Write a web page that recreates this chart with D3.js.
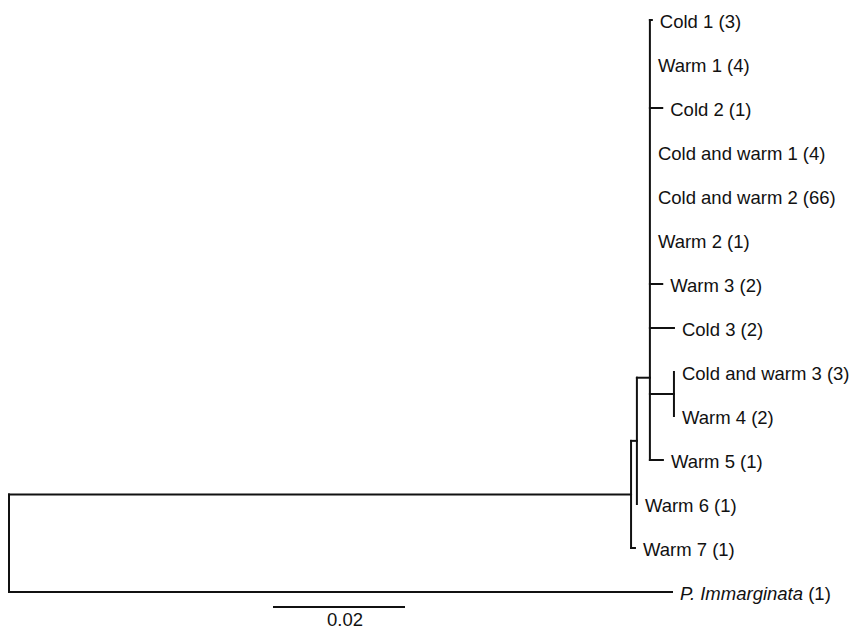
<!DOCTYPE html>
<head>
  <meta charset="utf-8">
  <title>Haplotype tree</title>
</head>
<style>
  body {
    margin: 0;
    background: #fff;
  }
  .branch {
    stroke: #111;
    stroke-width: 2px;
    stroke-linecap: square;
    fill: none;
  }
  .tip_label {
    font-family: "Liberation Sans", Arial, sans-serif;
    font-size: 18.5px;
    fill: #111;
  }
</style>
<body>
  <svg id="tree" width="851" height="630"></svg>
<script src="https://cdn.jsdelivr.net/npm/d3@7/dist/d3.min.js"></script>
<script>
  // tips, top to bottom
  var taxa = ["Cold 1", "Warm 1", "Cold 2", "Cold and warm 1", "Cold and warm 2", "Warm 2", "Warm 3",
              "Cold 3", "Cold and warm 3", "Warm 4", "Warm 5", "Warm 6", "Warm 7", "P. Immarginata"];
  var counts = [3, 4, 1, 4, 66, 1, 2, 2, 3, 2, 1, 1, 1, 1];
  var tipParents = ["C", "C", "C", "C", "C", "C", "C", "C", "D", "D", "C", "B", "A", "root"];
  var tipLengths = [0.0003, 0, 0.0019, 0, 0, 0, 0.0019, 0.0037, 0, 0, 0.002, 0, 0.0006, 0.102];
  var italicTaxa = ["P. Immarginata"];

  // internal nodes
  var nodeIds = ["root", "A", "B", "C", "D"];
  var nodeParents = [null, "root", "A", "B", "C"];
  var nodeLengths = [0, 0.0957, 0.0009, 0.002, 0.0037];
  var nodeAnchor = [null, null, null, 8.13, null]; // polytomy drawn off-centre in the original

  var scaleBarValue = 0.02;

  var svg = d3.select('#tree');

  var rows = [];
  nodeIds.forEach(function(id, i) {
    rows.push({id: id, parent: nodeParents[i], len: nodeLengths[i], anchor: nodeAnchor[i], tip: -1});
  });
  taxa.forEach(function(name, i) {
    rows.push({id: name, parent: tipParents[i], len: tipLengths[i], anchor: null, tip: i});
  });

  var root = d3.stratify()
      .id(d => d.id)
      .parentId(d => d.parent)(rows);

  var x = d3.scaleLinear().domain([0, 0.1]).range([9, 659]);
  var y = d3.scaleLinear().domain([0, taxa.length - 1]).range([20, 592]);

  root.eachBefore(function(d) {
    d.dist = (d.parent ? d.parent.dist : 0) + d.data.len;
  });
  root.eachAfter(function(d) {
    if (d.data.tip >= 0) {
      d.yy = y(d.data.tip);
    } else if (d.data.anchor != null) {
      d.yy = y(d.data.anchor);
    } else {
      var ext = d3.extent(d.children, c => c.yy);
      d.yy = (ext[0] + ext[1]) / 2;
    }
  });

  var plot = svg.append('g');

  // vertical connectors
  plot.selectAll('.vline')
      .data(root.descendants().filter(d => d.children))
    .enter().append('line')
      .attr('class', 'branch')
      .attr('x1', d => x(d.dist))
      .attr('x2', d => x(d.dist))
      .attr('y1', d => d3.min(d.children, c => c.yy))
      .attr('y2', d => d3.max(d.children, c => c.yy));

  // horizontal branches
  plot.selectAll('.hline')
      .data(root.descendants().filter(d => d.parent && d.data.len > 0))
    .enter().append('line')
      .attr('class', 'branch')
      .attr('x1', d => x(d.parent.dist))
      .attr('x2', d => x(d.dist))
      .attr('y1', d => d.yy)
      .attr('y2', d => d.yy);

  // tip labels
  var label = plot.selectAll('.tip_label')
      .data(root.leaves())
    .enter().append('text')
      .attr('class', 'tip_label')
      .attr('x', d => x(d.dist) + 8)
      .attr('y', d => d.yy)
      .attr('dy', '0.42em');
  label.append('tspan')
      .style('font-style', d => italicTaxa.indexOf(d.id) >= 0 ? 'italic' : 'normal')
      .text(d => d.id);
  label.append('tspan')
      .text(d => ' (' + counts[d.data.tip] + ')');

  // scale bar
  var barX = 274, barY = 607;
  var barLen = x(scaleBarValue) - x(0);
  svg.append('line')
      .attr('class', 'branch')
      .attr('x1', barX)
      .attr('x2', barX + barLen)
      .attr('y1', barY)
      .attr('y2', barY);
  svg.append('text')
      .attr('class', 'tip_label')
      .attr('x', barX + barLen / 2 + 6)
      .attr('y', barY + 19)
      .attr('text-anchor', 'middle')
      .text(scaleBarValue);
</script>
</body>
